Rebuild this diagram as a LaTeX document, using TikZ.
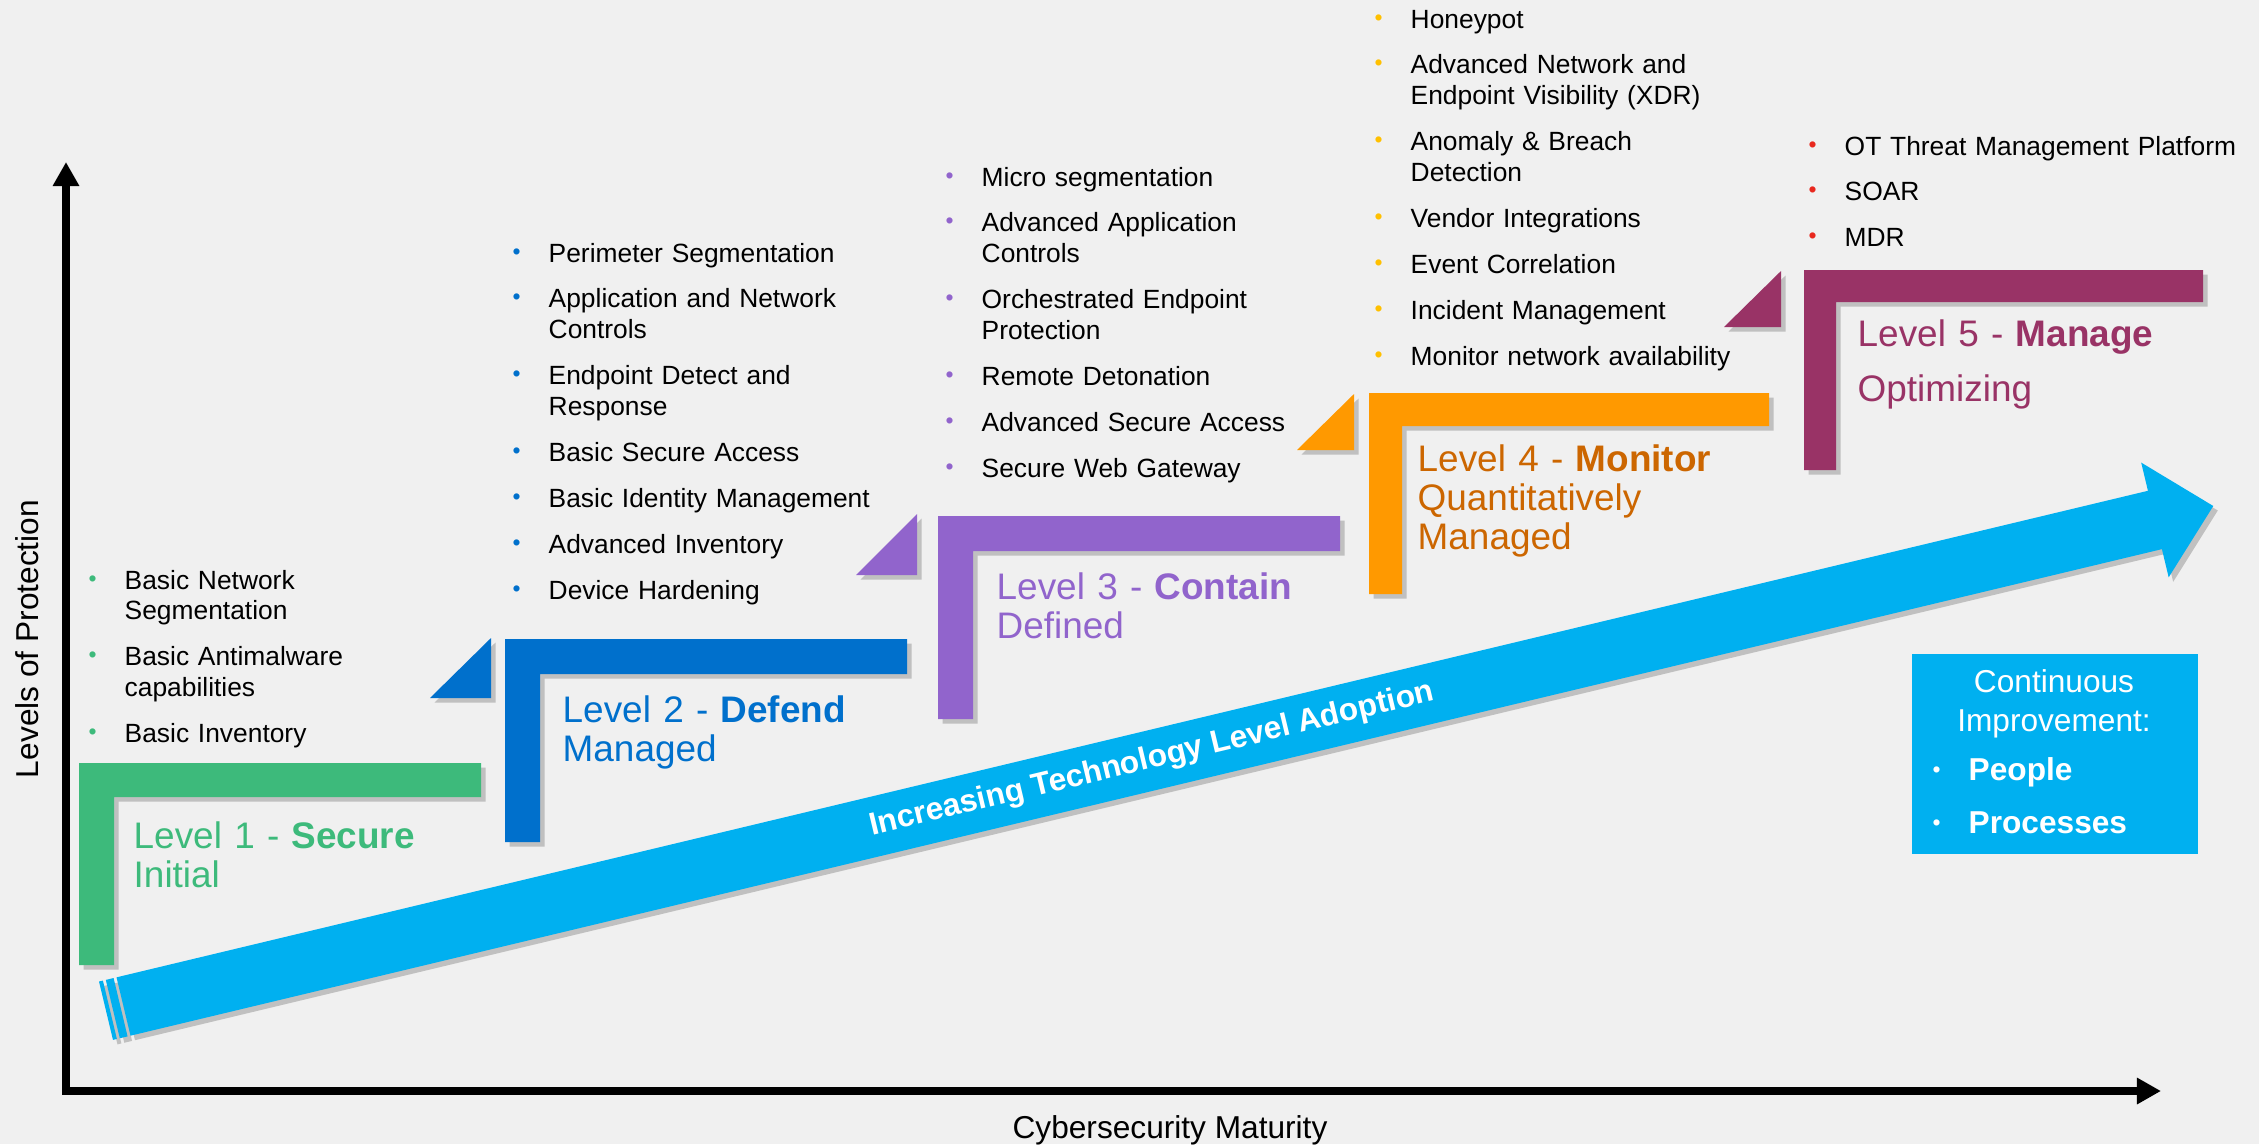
\documentclass[tikz,border=0pt]{standalone}
\usepackage{fontspec}
\setmainfont{Liberation Sans}
\setsansfont{Liberation Sans}
\usepackage{tikz}
\usetikzlibrary{arrows.meta,shadows,positioning}

\definecolor{bgpanel}{HTML}{F0F0F0}
\definecolor{lvlgreen}{HTML}{3DBA7B}
\definecolor{lvlblue}{HTML}{0070CC}
\definecolor{lvlpurple}{HTML}{9164CC}
\definecolor{lvlorange}{HTML}{FF9900}
\definecolor{lvlplum}{HTML}{993366}
\definecolor{lvlcyan}{HTML}{00B0F0}
\definecolor{txtorange}{HTML}{CC6600}
\definecolor{dotyellow}{HTML}{FFC000}
\definecolor{dotred}{HTML}{E8281E}

\newlength\bind \setlength\bind{0.32cm}
\newlength\bgap \setlength\bgap{0.15cm}
\newcommand\bdot[1]{\makebox[\bind][l]{\makebox[0pt]{\raisebox{0.03cm}{\textcolor{#1}{\fontsize{6.5}{6.5}\selectfont\textbullet}}}}}
\newcommand\bitem[2]{\noindent\hangindent=\bind\hangafter=1\bdot{#1}#2\par\vspace{\bgap}}

\begin{document}
\begin{tikzpicture}[x=0.01cm, y=-0.01cm,
    axisline/.style={line width=0.077cm, line join=miter,
      {Triangle[width=0.25cm,length=0.24cm]}-{Triangle[width=0.25cm,length=0.24cm]}},
    axlabel/.style={font=\fontsize{9}{10.8}\selectfont},
    lvlshadow/.style={drop shadow={shadow xshift=0.045cm, shadow yshift=-0.045cm, opacity=0.25, fill=black!80}},
    lst/.style={anchor=base west, inner sep=0pt, text width=6cm, font=\fontsize{7.5}{8.8}\selectfont},
    lvl/.style={anchor=base west, inner sep=0pt, text width=6cm, font=\fontsize{10.5}{11.1}\selectfont},
    adopttxt/.style={text=white, inner sep=0pt, font=\fontsize{9}{10.8}\selectfont\bfseries},
    cibox/.style={fill=lvlcyan, inner sep=0pt, anchor=north west, minimum width=2.86cm, minimum height=2cm},
    cititle/.style={anchor=base, inner sep=0pt, text width=2.86cm, align=center, text=white,
      font=\fontsize{9}{11.1}\selectfont}]
  \useasboundingbox (0,0) rectangle (2259,1144);
  \fill[bgpanel] (0,0) rectangle (2259,1144);

  % axes
  \coordinate (origin) at (66,1091);
  \coordinate (ytop) at (66,162);
  \coordinate (xend) at (2161,1091);
  \draw[axisline] (ytop) -- (origin) -- (xend);
  \node[axlabel, rotate=90, anchor=base] (ylab) at (38,639) {Levels of Protection};
  \node[axlabel, anchor=base] (xlab) at (1170,1138) {Cybersecurity Maturity};

  % level 1
  \fill[lvlgreen, lvlshadow] (79,763) -- (481,763) -- (481,797) -- (114,797) -- (114,965) -- (79,965) -- cycle;
  \node[lvl, text=lvlgreen] (lab1) at (133,848) {Level 1 - \textbf{Secure}\newline Initial};
  \node[lst] (items1) at (92,589) {\bitem{lvlgreen}{Basic Network\newline Segmentation}%
    \bitem{lvlgreen}{Basic Antimalware\newline capabilities}%
    \bitem{lvlgreen}{Basic Inventory}};

  % level 2
  \fill[lvlblue, lvlshadow] (491,638) -- (491,698) -- (430,698) -- cycle;
  \fill[lvlblue, lvlshadow] (505,639) -- (907,639) -- (907,674) -- (540,674) -- (540,842) -- (505,842) -- cycle;
  \node[lvl, text=lvlblue] (lab2) at (562,722) {Level 2 - \textbf{Defend}\newline Managed};
  \node[lst] (items2) at (516,262) {\bitem{lvlblue}{Perimeter Segmentation}%
    \bitem{lvlblue}{Application and Network\newline Controls}%
    \bitem{lvlblue}{Endpoint Detect and\newline Response}%
    \bitem{lvlblue}{Basic Secure Access}%
    \bitem{lvlblue}{Basic Identity Management}%
    \bitem{lvlblue}{Advanced Inventory}%
    \bitem{lvlblue}{Device Hardening}};

  % level 3
  \fill[lvlpurple, lvlshadow] (917,514) -- (917,575) -- (856,575) -- cycle;
  \fill[lvlpurple, lvlshadow] (938,516) -- (1340,516) -- (1340,551) -- (973,551) -- (973,719) -- (938,719) -- cycle;
  \node[lvl, text=lvlpurple] (lab3) at (996,599) {Level 3 - \textbf{Contain}\newline Defined};
  \node[lst] (items3) at (949,186) {\bitem{lvlpurple}{Micro segmentation}%
    \bitem{lvlpurple}{Advanced Application\newline Controls}%
    \bitem{lvlpurple}{Orchestrated Endpoint\newline Protection}%
    \bitem{lvlpurple}{Remote Detonation}%
    \bitem{lvlpurple}{Advanced Secure Access}%
    \bitem{lvlpurple}{Secure Web Gateway}};

  % level 4
  \fill[lvlorange, lvlshadow] (1354,394) -- (1354,450) -- (1297,450) -- cycle;
  \fill[lvlorange, lvlshadow] (1369,393) -- (1769,393) -- (1769,426) -- (1402,426) -- (1402,594) -- (1369,594) -- cycle;
  \node[lvl, text=txtorange] (lab4) at (1417,471) {Level 4 - \textbf{Monitor}\newline Quantitatively\newline Managed};
  \node[lst] (items4) at (1378,28) {\bitem{dotyellow}{Honeypot}%
    \bitem{dotyellow}{Advanced Network and\newline Endpoint Visibility (XDR)}%
    \bitem{dotyellow}{Anomaly \& Breach\newline Detection}%
    \bitem{dotyellow}{Vendor Integrations}%
    \bitem{dotyellow}{Event Correlation}%
    \bitem{dotyellow}{Incident Management}%
    \bitem{dotyellow}{Monitor network availability}};

  % level 5
  \fill[lvlplum, lvlshadow] (1781,271) -- (1781,327) -- (1724,327) -- cycle;
  \fill[lvlplum, lvlshadow] (1804,270) -- (2203,270) -- (2203,302) -- (1836,302) -- (1836,470) -- (1804,470) -- cycle;
  \node[lvl, text=lvlplum, font=\fontsize{10.5}{15.9}\selectfont] (lab5) at (1857,346) {Level 5 - \textbf{Manage}\newline Optimizing};
  \node[lst] (items5) at (1812,155) {\bitem{dotred}{OT Threat Management Platform}%
    \bitem{dotred}{SOAR}%
    \bitem{dotred}{MDR}};

  % adoption arrow
  \begin{scope}[shift={(123.5,1006.5)}, rotate=13.47]
    \fill[lvlcyan, lvlshadow] (-18,-30) rectangle (-14,30);
    \fill[lvlcyan, lvlshadow] (-11,-30) rectangle (-3,30);
    \fill[lvlcyan, lvlshadow] (0,-30) -- (2089,-30) -- (2089,-59) -- (2149,0) -- (2089,59) -- (2089,30) -- (0,30) -- cycle;
  \end{scope}
  \node[adopttxt, rotate=13.47] (adopt) at (1152,760) {Increasing Technology Level Adoption};

  % continuous improvement
  \node[cibox] (ci) at (1911,653) {};
  \node[cititle] (cititle) at (2054,692) {Continuous\\Improvement:};
  \node[lst, text=white, font=\fontsize{9}{10.8}\selectfont] (ciitems) at (1936,780)
    {\bitem{white}{\textbf{People}}\bitem{white}{\textbf{Processes}}};
\end{tikzpicture}
\end{document}
